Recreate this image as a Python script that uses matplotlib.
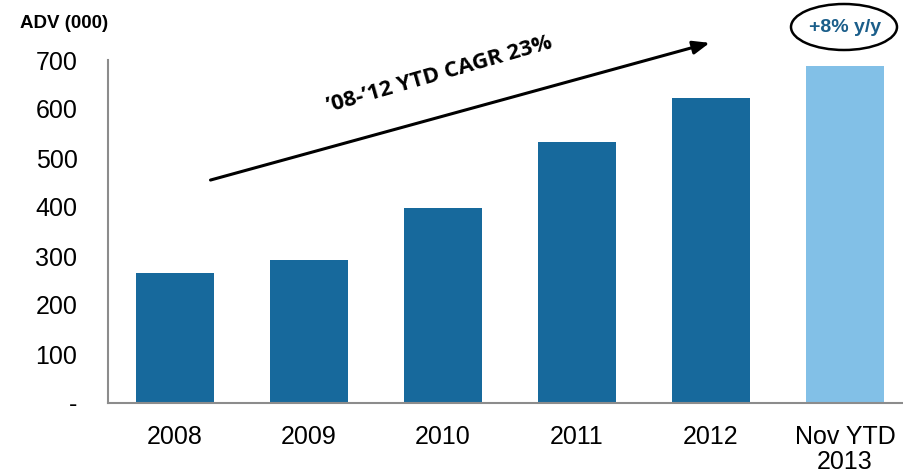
import matplotlib
matplotlib.use("Agg")
import matplotlib.pyplot as plt
from matplotlib.patches import Ellipse

categories = ["2008", "2009", "2010", "2011", "2012", "Nov YTD\n2013"]
values = [265, 292, 398, 533, 622, 688]
colors = ["#17699C"] * 5 + ["#82C0E7"]
yticks = [0, 100, 200, 300, 400, 500, 600, 700]
ytick_labels = ["-", "100", "200", "300", "400", "500", "600", "700"]

plt.rcParams['font.family'] = ['Liberation Sans', 'DejaVu Sans']

fig = plt.figure(figsize=(9.04, 4.76), dpi=100)
W, H = 904, 476
ax = fig.add_axes([108 / W, 1 - 403 / H, 804 / W, 343 / H])

x = list(range(len(categories)))
ax.bar(x, values, width=0.575, color=colors)
ax.set_xlim(-0.5, 5.5)
ax.set_ylim(0, 700)
ax.set_yticks(yticks)
ax.set_yticklabels(ytick_labels)
ax.set_xticks(x)
ax.set_xticklabels(categories, linespacing=1.05)
ax.tick_params(axis='y', length=0, pad=22, labelsize=18)
ax.tick_params(axis='x', length=0, pad=16, labelsize=18)
for s in ['top', 'right']:
    ax.spines[s].set_visible(False)
for s in ['left', 'bottom']:
    ax.spines[s].set_color('#8c8c8c')
    ax.spines[s].set_linewidth(1.5)

fig.text(20 / W, 1 - 24 / H, "ADV (000)", fontsize=13.5, fontweight='bold',
         va='center', ha='left')

# trend arrow
ax.annotate("", xy=(3.99, 735), xytext=(0.265, 455), annotation_clip=False,
            arrowprops=dict(arrowstyle='-|>,head_length=1.0,head_width=0.4',
                            color='black', lw=2.2, shrinkA=0, shrinkB=0))
ax.text(1.974, 671, "\u201908-\u201912 YTD CAGR 23%", rotation=16,
        rotation_mode='anchor', ha='center', va='center', fontsize=16,
        fontweight='bold', family=['Open Sans', 'DejaVu Sans'], clip_on=False)

# y/y annotation
ell = Ellipse((844 / W, 1 - 27 / H), 106 / W, 46 / H, transform=fig.transFigure,
              fill=False, edgecolor='black', lw=1.8)
fig.add_artist(ell)
fig.text(845 / W, 1 - 28 / H, "+8% y/y", fontsize=14, fontweight='bold',
         color='#1B5E8A', ha='center', va='center')

fig.savefig("out.png", dpi=100)
